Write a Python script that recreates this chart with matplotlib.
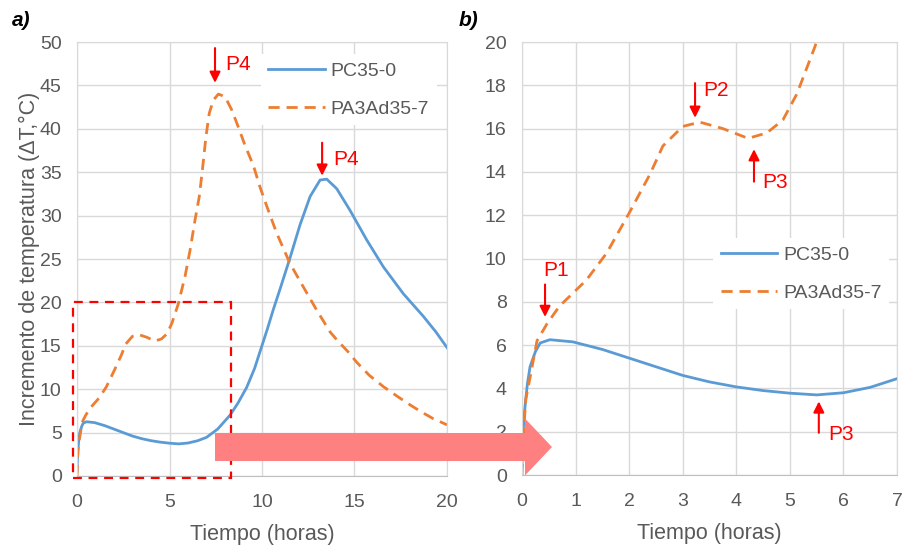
import numpy as np
import matplotlib
matplotlib.use("Agg")
import matplotlib.pyplot as plt
from matplotlib.patches import FancyArrow, Rectangle

plt.rcParams["font.family"] = ["Liberation Sans", "DejaVu Sans"]

# PC35-0 (blue)
t_pc = [0, 0.02, 0.05, 0.1, 0.15, 0.25, 0.34, 0.52, 0.95, 1.5, 2.0, 2.5, 3.0, 3.5,
        4.0, 4.5, 5.0, 5.5, 6.0, 6.5, 7.0, 7.6, 8.27, 8.7, 9.17, 9.6, 9.98, 10.3,
        10.6, 10.97, 11.51, 12.05, 12.6, 13.14, 13.5, 14.04, 14.76, 15.66, 16.56,
        17.64, 18.72, 19.4, 20.0]
v_pc = [0.5, 2.0, 3.0, 4.2, 5.0, 5.7, 6.1, 6.25, 6.15, 5.8, 5.4, 5.0, 4.6, 4.3,
        4.07, 3.9, 3.78, 3.7, 3.8, 4.05, 4.45, 5.4, 7.0, 8.4, 10.2, 12.4, 14.9, 17.0,
        19.1, 21.5, 25.1, 28.9, 32.2, 34.1, 34.2, 33.1, 30.6, 27.2, 24.1,
        21.0, 18.4, 16.6, 14.8]

# PA3Ad35-7 (orange, dashed)
t_pa = [0, 0.03, 0.07, 0.15, 0.28, 0.47, 0.7, 0.95, 1.2, 1.58, 2.0, 2.39, 2.63,
        3.0, 3.32, 3.75, 4.22, 4.57, 4.87, 5.13, 5.47, 5.84, 6.11, 6.38, 6.61, 6.78,
        6.97, 7.15, 7.37, 7.64, 8.0, 8.36, 8.72, 9.08, 9.53, 9.89, 10.34, 10.79,
        11.51, 12.23, 12.96, 13.68, 14.04, 14.7, 15.12, 15.8, 16.56, 17.3, 18.0,
        18.6, 19.26, 20.0]
v_pa = [0, 2.0, 3.5, 4.5, 6.2, 7.0, 7.8, 8.4, 9.0, 10.25, 12.1, 13.9, 15.2,
        16.1, 16.3, 16.0, 15.55, 15.8, 16.4, 17.6, 19.8, 23.0, 26.0, 29.5, 32.2, 35.3,
        39.1, 41.8, 43.3, 44.0, 43.7, 42.2, 40.2, 38.1, 35.8, 33.3, 30.6, 28.0,
        24.5, 21.8, 19.1, 16.6, 15.7, 14.2, 13.1, 11.6, 10.3, 9.2, 8.2,
        7.4, 6.6, 5.9]

labels = ["PC35-0", "PA3Ad35-7"]
blue = "#5B9BD5"
orange = "#ED7D31"
gray_txt = "#595959"
grid_c = "#D9D9D9"

# annotations: (label, arrow tail, arrow tip, text position)
notes_a = [("P4", (7.46, 49.3), (7.46, 45.3), (8.0, 47.4)),
           ("P4", (13.25, 38.4), (13.25, 34.6), (13.85, 36.5))]
notes_b = [("P1", (0.43, 8.8), (0.43, 7.3), (0.39, 9.45)),
           ("P2", (3.23, 18.1), (3.23, 16.5), (3.38, 17.75)),
           ("P3", (4.33, 13.55), (4.33, 15.05), (4.48, 13.5)),
           ("P3", (5.54, 1.95), (5.54, 3.4), (5.71, 1.85))]

fig = plt.figure(figsize=(9.05, 5.47), dpi=100)
ax1 = fig.add_axes([0.0851, 0.1298, 0.4088, 0.7934])
ax2 = fig.add_axes([0.5768, 0.1316, 0.4144, 0.7916])


def style(ax, xmax, ymax, xstep, ystep):
    ax.set_xlim(0, xmax)
    ax.set_ylim(0, ymax)
    ax.set_xticks(np.arange(0, xmax + 0.01, xstep))
    ax.set_yticks(np.arange(0, ymax + 0.01, ystep))
    ax.grid(True, color=grid_c, lw=1)
    ax.set_axisbelow(True)
    for s in ax.spines.values():
        s.set_color(grid_c)
    ax.spines["bottom"].set_color("#BFBFBF")
    ax.tick_params(length=0, labelsize=14, labelcolor=gray_txt)
    ax.tick_params(axis="x", pad=13)
    ax.tick_params(axis="y", pad=11)
    ax.set_xlabel("Tiempo (horas)", fontsize=15.5, color=gray_txt, labelpad=9)


for ax in (ax1, ax2):
    ax.plot(t_pc, v_pc, color=blue, lw=2, label=labels[0])
    ax.plot(t_pa, v_pa, color=orange, lw=2, dashes=(4, 2.5), label=labels[1])

style(ax1, 20, 50, 5, 5)
style(ax2, 7, 20, 1, 2)
ax1.set_ylabel("Incremento de temperatura (ΔT,°C)", fontsize=15.5, color=gray_txt, labelpad=0)

leg_kw = dict(loc="upper right", fontsize=14, frameon=True, facecolor="white",
              edgecolor="none", framealpha=1, fancybox=False, handlelength=2.9,
              handletextpad=0.3, labelspacing=1.05, borderaxespad=0, labelcolor=gray_txt)
ax1.legend(bbox_to_anchor=(0.973, 0.972), **leg_kw)
ax2.legend(bbox_to_anchor=(0.979, 0.547), **leg_kw)

for ax, notes in ((ax1, notes_a), (ax2, notes_b)):
    for lab, tail, tip, txt in notes:
        ax.annotate("", xy=tip, xytext=tail,
                    arrowprops=dict(arrowstyle="-|>", color="red", lw=1.5,
                                    mutation_scale=16, shrinkA=0, shrinkB=0))
        ax.text(txt[0], txt[1], lab, color="red", fontsize=15, va="center", ha="left")

# dashed zoom box on panel a
ax1.add_patch(Rectangle((-0.2, -0.2), 8.5, 20.2, fill=False, ec="red", lw=1.6,
                        ls=(0, (4, 3)), clip_on=False, zorder=5))

# big arrow from panel a to panel b (inches)
fig.add_artist(FancyArrow(2.15, 1.00, 3.37, 0, width=0.28, head_width=0.57,
                          head_length=0.27, length_includes_head=True,
                          color="#FF8080", lw=0, transform=fig.dpi_scale_trans,
                          zorder=10))

fig.text(0.013, 0.963, "a)", fontsize=15, fontweight="bold", fontstyle="italic", va="center")
fig.text(0.507, 0.963, "b)", fontsize=15, fontweight="bold", fontstyle="italic", va="center")

fig.savefig("out.png", dpi=100)
